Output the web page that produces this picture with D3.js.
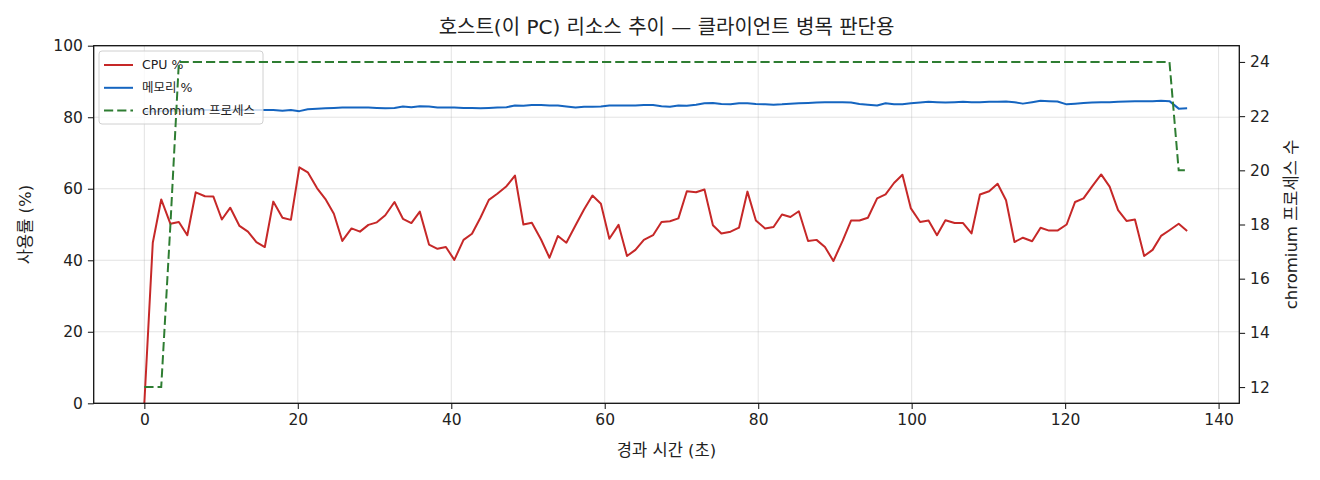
<!DOCTYPE html>
<html>
<head>
<meta charset="utf-8">
<script src="https://cdn.jsdelivr.net/npm/d3@7"></script>
<style>
  html, body { margin: 0; padding: 0; background: #fff; }
  svg text { font-family: "DejaVu Sans", "Noto Sans CJK KR", sans-serif; fill: #222; }
</style>
</head>
<body>
<div id="chart"></div>
<script>
"use strict";

// elapsed seconds of each sample
var seconds = [
  0.0, 1.1, 2.2, 3.4, 4.5, 5.6, 6.7, 7.9, 9.0, 10.1,
  11.2, 12.4, 13.5, 14.6, 15.7, 16.8, 18.0, 19.1, 20.2, 21.3,
  22.5, 23.6, 24.7, 25.8, 27.0, 28.1, 29.2, 30.3, 31.4, 32.6,
  33.7, 34.8, 35.9, 37.1, 38.2, 39.3, 40.4, 41.6, 42.7, 43.8,
  44.9, 46.0, 47.2, 48.3, 49.4, 50.5, 51.7, 52.8, 53.9, 55.0,
  56.2, 57.3, 58.4, 59.5, 60.6, 61.8, 62.9, 64.0, 65.1, 66.3,
  67.4, 68.5, 69.6, 70.7, 71.9, 73.0, 74.1, 75.2, 76.4, 77.5,
  78.6, 79.7, 80.9, 82.0, 83.1, 84.2, 85.3, 86.5, 87.6, 88.7,
  89.8, 91.0, 92.1, 93.2, 94.3, 95.5, 96.6, 97.7, 98.8, 99.9,
  101.1, 102.2, 103.3, 104.4, 105.6, 106.7, 107.8, 108.9, 110.1, 111.2,
  112.3, 113.4, 114.5, 115.7, 116.8, 117.9, 119.0, 120.2, 121.3, 122.4,
  123.5, 124.7, 125.8, 126.9, 128.0, 129.1, 130.3, 131.4, 132.5, 133.6,
  134.8, 135.9
];

var cpuPct = [
  0, 44.9, 57.0, 50.2, 50.7, 47.0, 59.0, 57.9, 57.8, 51.4,
  54.7, 49.6, 48.0, 45.1, 43.7, 56.4, 51.9, 51.3, 66.0, 64.6,
  60.2, 57.1, 53.0, 45.4, 48.9, 48.0, 49.9, 50.6, 52.6, 56.3,
  51.6, 50.4, 53.6, 44.4, 43.2, 43.7, 40.1, 45.7, 47.4, 51.9,
  56.9, 58.6, 60.7, 63.7, 50.0, 50.5, 45.8, 40.7, 46.8, 44.9,
  49.8, 54.2, 58.1, 55.8, 46.0, 49.9, 41.2, 42.9, 45.7, 47.0,
  50.7, 50.9, 51.7, 59.3, 59.0, 59.8, 49.8, 47.5, 48.0, 49.1,
  59.2, 51.1, 48.9, 49.3, 52.8, 52.1, 53.7, 45.4, 45.7, 43.7,
  39.8, 45.4, 51.1, 51.1, 51.9, 57.3, 58.4, 61.6, 63.9, 54.5,
  50.7, 51.1, 47.0, 51.2, 50.4, 50.4, 47.5, 58.4, 59.3, 61.4,
  56.8, 45.1, 46.3, 45.3, 49.1, 48.3, 48.3, 50.0, 56.3, 57.3,
  60.6, 64.0, 60.6, 54.0, 51.0, 51.4, 41.2, 42.9, 46.8, 48.4,
  50.2, 48.2
];

var memPct = [
  81.5, 81.6, 81.7, 81.8, 81.8, 81.9, 81.9, 82.0, 82.0, 82.0,
  82.0, 82.0, 82.0, 82.0, 82.0, 82.0, 81.8, 82.0, 81.7, 82.2,
  82.4, 82.5, 82.6, 82.7, 82.7, 82.7, 82.7, 82.6, 82.5, 82.6,
  83.0, 82.8, 83.1, 83.0, 82.7, 82.7, 82.7, 82.6, 82.6, 82.5,
  82.6, 82.7, 82.8, 83.3, 83.2, 83.4, 83.4, 83.3, 83.3, 83.0,
  82.7, 82.9, 82.9, 83.0, 83.3, 83.3, 83.3, 83.3, 83.4, 83.4,
  83.1, 82.9, 83.3, 83.2, 83.5, 83.9, 84.0, 83.7, 83.6, 83.9,
  83.9, 83.7, 83.6, 83.5, 83.6, 83.8, 83.9, 84.0, 84.1, 84.2,
  84.2, 84.2, 84.1, 83.7, 83.5, 83.3, 83.9, 83.6, 83.6, 83.9,
  84.1, 84.3, 84.2, 84.1, 84.2, 84.3, 84.2, 84.2, 84.3, 84.3,
  84.4, 84.2, 83.8, 84.2, 84.6, 84.5, 84.4, 83.6, 83.8, 84.0,
  84.1, 84.2, 84.2, 84.3, 84.4, 84.5, 84.5, 84.5, 84.6, 84.5,
  82.4, 82.5
];

var chromiumCount = [
  12, 12, 12, 18, 24, 24, 24, 24, 24, 24,
  24, 24, 24, 24, 24, 24, 24, 24, 24, 24,
  24, 24, 24, 24, 24, 24, 24, 24, 24, 24,
  24, 24, 24, 24, 24, 24, 24, 24, 24, 24,
  24, 24, 24, 24, 24, 24, 24, 24, 24, 24,
  24, 24, 24, 24, 24, 24, 24, 24, 24, 24,
  24, 24, 24, 24, 24, 24, 24, 24, 24, 24,
  24, 24, 24, 24, 24, 24, 24, 24, 24, 24,
  24, 24, 24, 24, 24, 24, 24, 24, 24, 24,
  24, 24, 24, 24, 24, 24, 24, 24, 24, 24,
  24, 24, 24, 24, 24, 24, 24, 24, 24, 24,
  24, 24, 24, 24, 24, 24, 24, 24, 24, 24,
  20, 20
];

var xTicks = [0, 20, 40, 60, 80, 100, 120, 140];
var leftTicks = [0, 20, 40, 60, 80, 100];
var rightTicks = [12, 14, 16, 18, 20, 22, 24];

var seriesNames = ["CPU %", "메모리 %", "chromium 프로세스"];
var seriesColors = ["#c62828", "#1565c0", "#2e7d32"];

drawChart("#chart");

function drawChart(selector) {
  var width = 1320,
      height = 480,
      left = 93.7,
      right = 1239.3,
      top = 45.7,
      bottom = 403.3,
      dash = "9.2,4";

  var x = d3.scaleLinear().domain([-6.6, 142.7]).range([left, right]);
  var yLeft = d3.scaleLinear().domain([0, 100]).range([bottom, top]);
  var yRight = d3.scaleLinear().domain([11.4, 24.6]).range([bottom, top]);

  var svg = d3.select(selector).append("svg")
    .attr("width", width)
    .attr("height", height);

  svg.append("defs").append("clipPath").attr("id", "plot-clip")
    .append("rect")
    .attr("x", left).attr("y", top)
    .attr("width", right - left).attr("height", bottom - top);

  // grid
  var grid = svg.append("g").attr("stroke", "#b0b0b0").attr("stroke-opacity", 0.35).attr("stroke-width", 1);
  grid.selectAll("line.vx").data(xTicks).join("line")
    .attr("class", "vx")
    .attr("x1", d => x(d)).attr("x2", d => x(d))
    .attr("y1", top).attr("y2", bottom);
  grid.selectAll("line.hy").data(leftTicks).join("line")
    .attr("class", "hy")
    .attr("x1", left).attr("x2", right)
    .attr("y1", d => yLeft(d)).attr("y2", d => yLeft(d));

  var idx = d3.range(seconds.length);

  var cpuLine = d3.line().x(i => x(seconds[i])).y(i => yLeft(cpuPct[i]));
  var memLine = d3.line().x(i => x(seconds[i])).y(i => yLeft(memPct[i]));
  var procLine = d3.line().x(i => x(seconds[i])).y(i => yRight(chromiumCount[i]));

  var leftPlot = svg.append("g").attr("clip-path", "url(#plot-clip)");
  leftPlot.append("path").attr("d", cpuLine(idx))
    .attr("fill", "none").attr("stroke", seriesColors[0])
    .attr("stroke-width", 2).attr("stroke-linejoin", "round");
  leftPlot.append("path").attr("d", memLine(idx))
    .attr("fill", "none").attr("stroke", seriesColors[1])
    .attr("stroke-width", 2).attr("stroke-linejoin", "round");

  // legend (belongs to the left axes, so the process line sits above it)
  var legend = svg.append("g");
  legend.append("rect")
    .attr("x", 99).attr("y", 51).attr("width", 164).attr("height", 73)
    .attr("rx", 3).attr("ry", 3)
    .attr("fill", "#fff").attr("fill-opacity", 0.8)
    .attr("stroke", "#d0d0d0").attr("stroke-width", 1);
  seriesNames.forEach(function (name, i) {
    var cy = 65 + i * 22.8;
    legend.append("line")
      .attr("x1", 104).attr("x2", 133).attr("y1", cy).attr("y2", cy)
      .attr("stroke", seriesColors[i]).attr("stroke-width", 2)
      .attr("stroke-dasharray", i === 2 ? dash : null);
    legend.append("text")
      .attr("x", 142).attr("y", cy).attr("dy", "0.35em")
      .attr("font-size", "12.5px")
      .text(name);
  });

  var rightPlot = svg.append("g").attr("clip-path", "url(#plot-clip)");
  rightPlot.append("path").attr("d", procLine(idx))
    .attr("fill", "none").attr("stroke", seriesColors[2])
    .attr("stroke-width", 2).attr("stroke-dasharray", dash);

  // axes
  var tickFont = "15.5px";
  var gx = svg.append("g").attr("transform", "translate(0," + bottom + ")")
    .call(d3.axisBottom(x).tickValues(xTicks).tickSize(5.8).tickPadding(5));
  var gl = svg.append("g").attr("transform", "translate(" + left + ",0)")
    .call(d3.axisLeft(yLeft).tickValues(leftTicks).tickSize(5.8).tickPadding(5));
  var gr = svg.append("g").attr("transform", "translate(" + right + ",0)")
    .call(d3.axisRight(yRight).tickValues(rightTicks).tickSize(5.8).tickPadding(5));
  [gx, gl, gr].forEach(function (g) {
    g.select(".domain").remove();
    g.selectAll(".tick line").attr("stroke", "#222").attr("stroke-width", 1.1);
    g.selectAll(".tick text").attr("font-size", tickFont).attr("fill", "#222");
  });

  // frame
  svg.append("rect")
    .attr("x", left).attr("y", top)
    .attr("width", right - left).attr("height", bottom - top)
    .attr("fill", "none").attr("stroke", "#111").attr("stroke-width", 1.3);

  // labels
  svg.append("text")
    .attr("x", (left + right) / 2).attr("y", 34)
    .attr("text-anchor", "middle").attr("font-size", "20px")
    .text("호스트(이 PC) 리소스 추이 — 클라이언트 병목 판단용");
  svg.append("text")
    .attr("x", (left + right) / 2).attr("y", 456)
    .attr("text-anchor", "middle").attr("font-size", "16.5px")
    .text("경과 시간 (초)");
  svg.append("text")
    .attr("transform", "translate(31," + (top + bottom) / 2 + ") rotate(-90)")
    .attr("text-anchor", "middle").attr("font-size", "16.5px")
    .text("사용률 (%)");
  svg.append("text")
    .attr("transform", "translate(1297," + (top + bottom) / 2 + ") rotate(-90)")
    .attr("text-anchor", "middle").attr("font-size", "16.5px")
    .text("chromium 프로세스 수");
}
</script>
</body>
</html>
